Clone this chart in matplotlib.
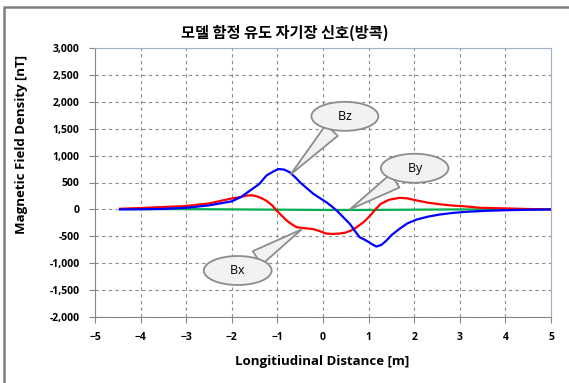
import matplotlib
matplotlib.use("Agg")
import matplotlib.pyplot as plt
from matplotlib.lines import Line2D

plt.rcParams['font.family'] = ['Open Sans', 'Noto Sans CJK KR', 'DejaVu Sans']

# data (distance in m, field in nT)
bz_x = [-4.45, -4.0, -3.5, -3.0, -2.5, -2.0, -1.8, -1.6, -1.4, -1.24, -1.1, -0.98,
        -0.85, -0.73, -0.6, -0.5, -0.35, -0.22, -0.05, 0.08, 0.2, 0.3, 0.45, 0.59,
        0.7, 0.8, 0.95, 1.08, 1.17, 1.28, 1.39, 1.5, 1.68, 1.85, 2.05, 2.3, 2.56,
        2.85, 3.14, 3.6, 4.16, 4.6, 5.0]
bz_y = [0, 3, 10, 30, 75, 150, 230, 350, 470, 630, 700, 750,
        740, 690, 590, 500, 390, 295, 200, 130, 50, -20, -150, -270,
        -400, -515, -580, -650, -690, -660, -580, -480, -360, -260, -190, -135, -95,
        -65, -45, -25, -12, -5, 0]

bx_x = [-4.45, -4.0, -3.55, -3.05, -2.5, -2.05, -1.8, -1.68, -1.55, -1.46, -1.35,
        -1.24, -1.12, -1.02, -0.9, -0.8, -0.68, -0.58, -0.4, -0.22, -0.05, 0.07, 0.2,
        0.36, 0.5, 0.62, 0.74, 0.9, 1.04, 1.15, 1.26, 1.45, 1.68, 1.85, 2.05, 2.3,
        2.56, 2.85, 3.07, 3.45, 4.16, 4.6, 5.0]
bx_y = [12, 25, 43, 60, 110, 195, 230, 258, 262, 245, 210,
        160, 80, -20, -120, -205, -280, -330, -350, -365, -410, -450, -455,
        -450, -430, -390, -330, -230, -110, 0, 100, 180, 215, 205, 167, 125,
        95, 70, 60, 30, 15, 5, 0]

by_x = [-4.45, -3.0, -2.0, -1.0, 0.0, 1.0, 2.0, 3.0, 4.0, 5.0]
by_y = [5, 5, 0, -5, -10, -10, -5, 0, 0, 0]

xticks = [-5, -4, -3, -2, -1, 0, 1, 2, 3, 4, 5]
yticks = [-2000, -1500, -1000, -500, 0, 500, 1000, 1500, 2000, 2500, 3000]

fig = plt.figure(figsize=(5.69, 3.83), dpi=100)
ax = fig.add_axes([95 / 569, 1 - 317 / 383, 456 / 569, 269 / 383])

ax.plot(by_x, by_y, color='#00b050', lw=1.6)
ax.plot(bx_x, bx_y, color='#ff0000', lw=1.6)
ax.plot(bz_x, bz_y, color='#0000ff', lw=1.6)

ax.set_xlim(-5, 5)
ax.set_ylim(-2000, 3000)
ax.set_xticks(xticks)
ax.set_yticks(yticks)
ax.set_yticklabels([f"{v:,}" for v in yticks])
ax.grid(True, color='#8c8c8c', linestyle=(0, (3, 3)), lw=0.8)
ax.tick_params(direction='out', length=4, color='#868686', labelsize=7.5, pad=7)
for lab in ax.get_xticklabels() + ax.get_yticklabels():
    lab.set_fontweight('bold')
for s in ['left', 'bottom']:
    ax.spines[s].set_color('#868686')
for s in ['top', 'right']:
    ax.spines[s].set_color('#a3b1cc')

# callouts
def callout(text, xy, xytext):
    ax.annotate(text, xy=xy, xytext=xytext, ha='center', va='center', fontsize=9,
                bbox=dict(boxstyle='ellipse,pad=0.3', fc='#f2f2f2', ec='#8c8c8c', lw=1.3),
                arrowprops=dict(arrowstyle='wedge,tail_width=1.3', fc='#f2f2f2',
                                ec='#8c8c8c', lw=1.3, shrinkA=0, shrinkB=0))

callout('    Bz    ', (-0.71, 650), (0.48, 1730))
callout('    By    ', (0.59, 0), (2.01, 765))
callout('    Bx    ', (-0.47, -372), (-1.87, -1136))

fig.text(0.5, 1 - 33 / 383, '모델 함정 유도 자기장 신호(방콕)', ha='center', va='center',
         fontsize=11, fontweight='bold', family=['Noto Sans CJK KR', 'DejaVu Sans'])
fig.text(22 / 569, 1 - 144 / 383, 'Magnetic Field Density [nT]', rotation=90,
         ha='center', va='center', fontsize=9.5, fontweight='bold')
fig.text(322 / 569, 1 - 362 / 383, 'Longitiudinal Distance [m]', ha='center',
         va='center', fontsize=9.5, fontweight='bold')

# outer chart frame (only the left and top edges fall inside the picture)
fx, fy = 4 / 569, 1 - 7 / 383
fig.add_artist(Line2D([fx, fx, 1], [0, fy, fy], transform=fig.transFigure,
                      color='#7f7f7f', lw=1.8))

fig.savefig('out.png', dpi=100, facecolor='white')
